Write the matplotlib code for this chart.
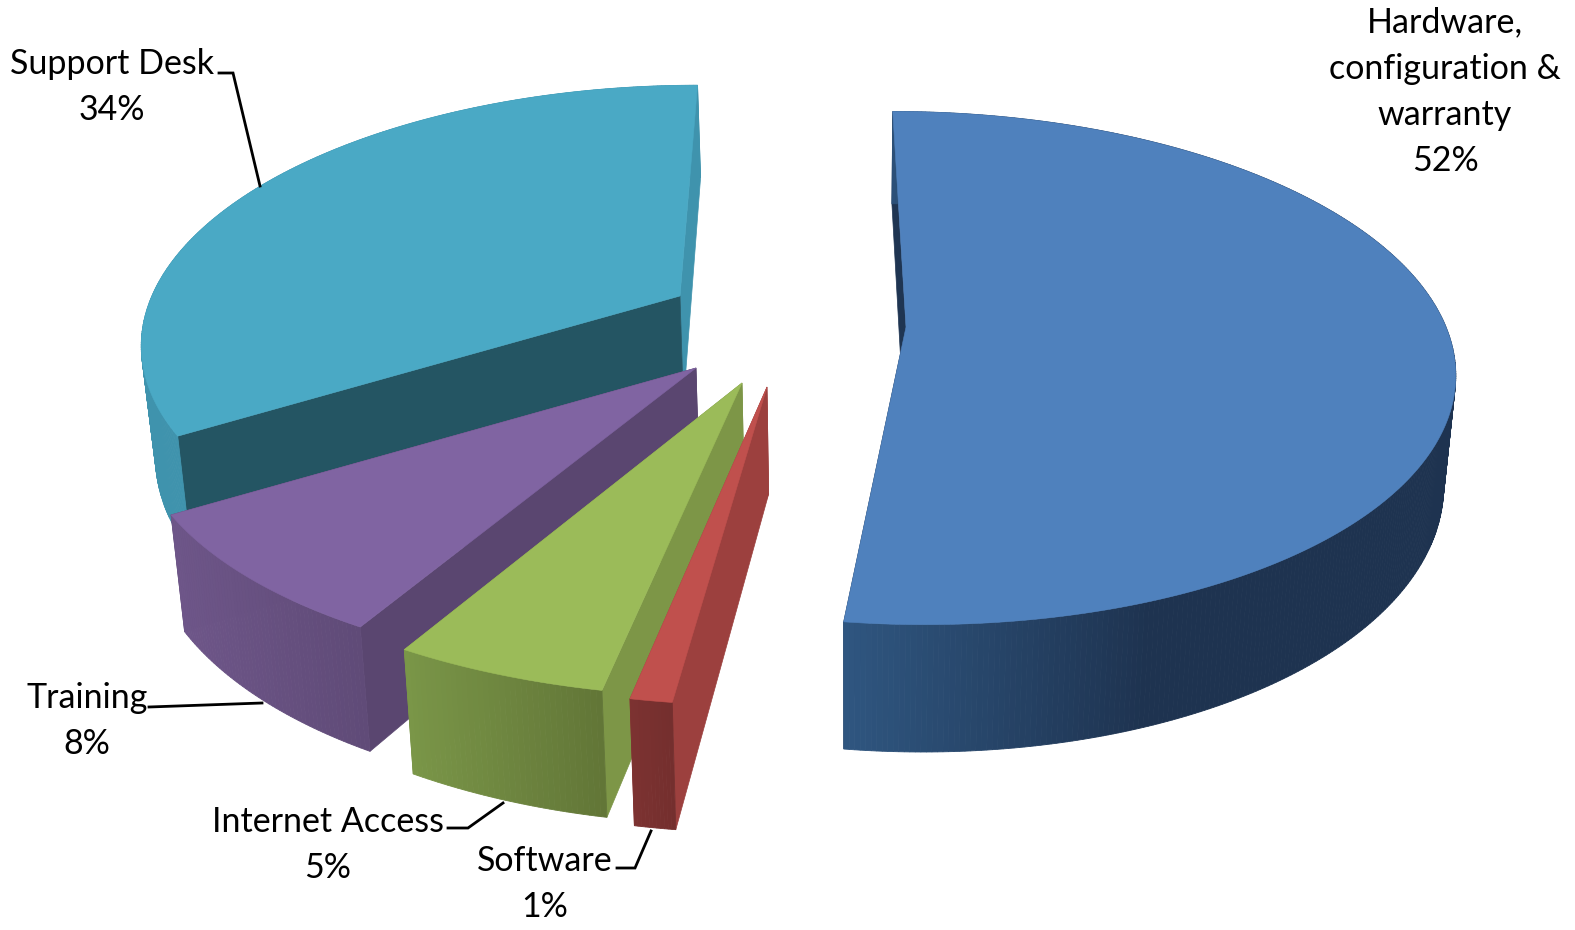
"""Exploded 3D-look pie of support categories, projected by hand onto pixel axes."""
import numpy as np
import matplotlib
matplotlib.use("Agg")
import matplotlib.pyplot as plt
from matplotlib.colors import to_rgb

# data, clockwise from the top (labels show them rounded)
labels = ['Hardware,\nconfiguration &\nwarranty', 'Software', 'Internet Access', 'Training', 'Support Desk']
shares = [52, 1, 5.2, 8.0, 33.8]

# per slice layout (same order as shares)
apex_x = [906, 767, 742, 696, 680]
apex_y = [327, 387, 383, 368, 296]
scales = [1.0, 1.07, 1.055, 1.025, 0.978]
top_cols = ['#4f81bd', '#c0504d', '#9bbb59', '#8064a2', '#4aa9c5']
start_cols = ['#1f3552', '#9c403e', '#7d9647', '#5a4670', '#245563']
end_cols = ['#1f3552', '#9c403e', '#7d9647', '#5a4670', '#3f93ad']
wall_left = ['#2f5680', '#7c3231', '#7a9648', '#6e5689', '#3f93ad']
wall_right = ['#1e3350', '#722e2d', '#627637', '#604b78', '#3f93ad']
grad_span = [300, 50, 190, 180, 100]
draw_order = [4, 3, 2, 1, 0]

# label text position, and leader polylines in pixels
label_x = [1445, 545, 328, 87, 112]
label_y = [92, 884, 845, 721, 87]
leaders = [None,
           [(617, 868), (635, 868), (651, 831)],
           [(448, 828), (468, 828), (503, 803)],
           [(149, 707), (262, 703)],
           [(219, 73), (233, 73), (260, 186)]]

RX, RY = 540, 250
PERSP = 0.16
DEPTH = 107
VANISH_X, SKEW = 810, 6.4e-4
DROP_X, DROP_SHIFT = 850, 0.02

plt.rcParams['font.family'] = ['Lato', 'DejaVu Sans']


def project(ang, scale, ax0, ay0, bottom=False):
    """Disk angle (deg) -> pixel coordinates for the top or bottom ring."""
    ang = np.radians(np.atleast_1d(ang))
    den = 1 + PERSP * np.sin(ang)
    v = RY * scale * np.sin(ang) / den
    u = RX * scale * np.cos(ang) / den + (VANISH_X - ax0) * SKEW * v
    x, y = ax0 + u, ay0 - v
    if bottom:
        x = x + (DROP_X - x) * DROP_SHIFT
        y = y + DEPTH / den
    return x, y


def apex_low(ax0, ay0):
    return ax0 + (DROP_X - ax0) * DROP_SHIFT, ay0 + DEPTH


def mix(c1, c2, t):
    return tuple(np.array(to_rgb(c1)) * (1 - t) + np.array(to_rgb(c2)) * t)


fig = plt.figure(figsize=(15.75, 9.3), dpi=100)
ax = fig.add_axes([0, 0, 1, 1])
ax.set_xlim(0, 1575)
ax.set_ylim(930, 0)
ax.axis('off')

cum = np.cumsum([0] + shares)
for i in draw_order:
    a0 = 90 - 3.6 * cum[i]
    a1 = 90 - 3.6 * cum[i + 1]
    ang = np.linspace(a0, a1, max(int(abs(a1 - a0) * 2), 12))
    ax0, ay0 = apex_x[i], apex_y[i]
    xt, yt = project(ang, scales[i], ax0, ay0)
    xb, yb = project(ang, scales[i], ax0, ay0, bottom=True)
    lx, ly = apex_low(ax0, ay0)

    # radial faces
    for j, col in ((-1, end_cols[i]), (0, start_cols[i])):
        ax.fill([xt[j], ax0, lx, xb[j]], [yt[j], ay0, ly, yb[j]], color=col, lw=0.5)

    # outer wall with horizontal shading
    xmin = xb.min()
    for k in range(len(ang) - 1):
        t = np.clip((0.5 * (xb[k] + xb[k + 1]) - xmin) / grad_span[i], 0, 1)
        ax.fill([xt[k], xt[k + 1], xb[k + 1], xb[k]], [yt[k], yt[k + 1], yb[k + 1], yb[k]],
                color=mix(wall_left[i], wall_right[i], t), lw=0.6)

    ax.fill(np.r_[ax0, xt], np.r_[ay0, yt], color=top_cols[i], lw=0.4)

for i in range(len(shares)):
    ax.text(label_x[i], label_y[i], f'{labels[i]}\n{shares[i]:.0f}%', ha='center', va='center',
            fontsize=24.5, color='black', linespacing=1.55, zorder=5)
    if leaders[i]:
        ax.plot(*zip(*leaders[i]), color='black', lw=2, solid_joinstyle='miter', zorder=4)

fig.savefig('out.png', dpi=100, facecolor='white')
